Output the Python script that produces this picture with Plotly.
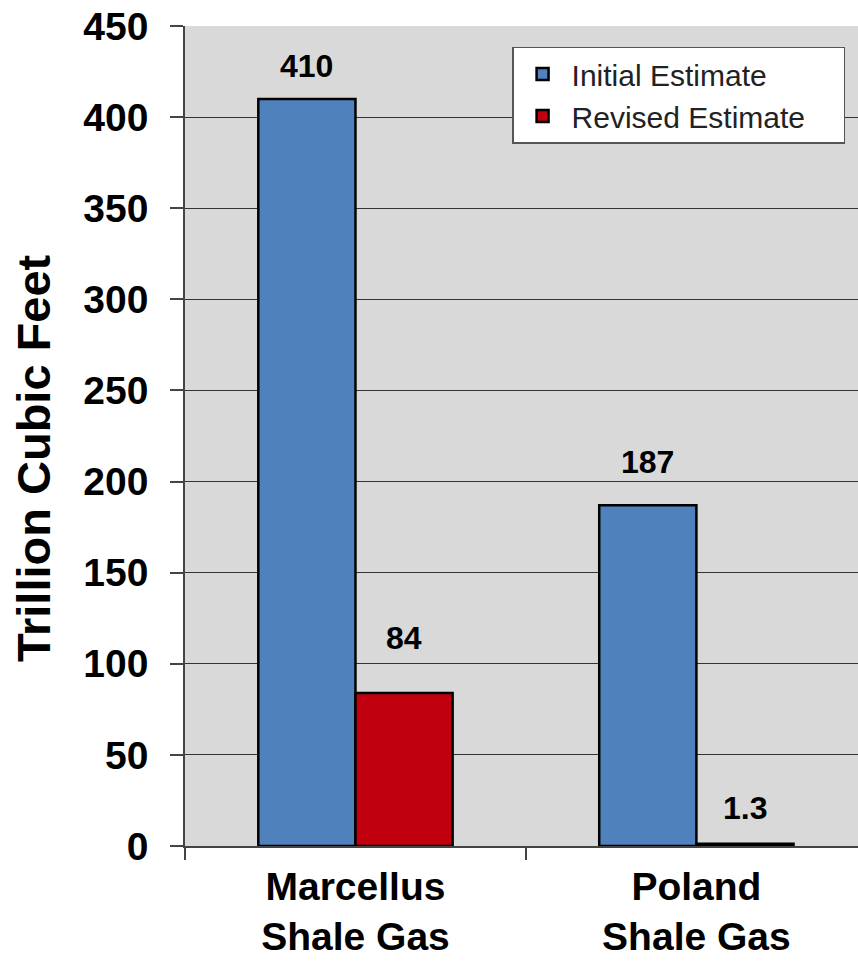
import plotly.graph_objects as go

categories = ["Marcellus<br>Shale Gas", "Poland<br>Shale Gas"]
series_names = ["Initial Estimate", "Revised Estimate"]
initial_estimate = [410, 187]
revised_estimate = [84, 1.3]
label_text_initial = ["410", "187"]
label_text_revised = ["84", "1.3"]
y_ticks = [0, 50, 100, 150, 200, 250, 300, 350, 400, 450]

# style-only: per-label vertical offsets (px) above bar tops
shift_initial = [33, 43]
shift_revised = [55, 36]

BLUE = "#4f81bd"
RED = "#c0000f"
FONT = "Liberation Sans, Arial, sans-serif"
BARGAP = 0.43
PAD = "\u00a0\u00a0\u00a0\u00a0"

fig = go.Figure()
fig.add_trace(go.Bar(name=series_names[0] + PAD, x=categories, y=initial_estimate,
                     marker=dict(color=BLUE, line=dict(color="black", width=2.5))))
fig.add_trace(go.Bar(name=series_names[1] + PAD, x=categories, y=revised_estimate,
                     marker=dict(color=RED, line=dict(color="black", width=2.5))))

off = (1 - BARGAP) / 4
for i, cat in enumerate(categories):
    fig.add_annotation(x=i - off, y=initial_estimate[i], xref="x", yref="y",
                       text="<b>%s</b>" % label_text_initial[i], showarrow=False,
                       yanchor="middle", yshift=shift_initial[i],
                       font=dict(family=FONT, size=32, color="black"))
    fig.add_annotation(x=i + off, y=revised_estimate[i], xref="x", yref="y",
                       text="<b>%s</b>" % label_text_revised[i], showarrow=False,
                       yanchor="middle", yshift=shift_revised[i],
                       font=dict(family=FONT, size=32, color="black"))

fig.add_annotation(text="<b>Trillion Cubic Feet</b>", textangle=-90,
                   xref="paper", yref="paper", x=-0.2259, y=0.473,
                   xanchor="center", yanchor="middle", showarrow=False,
                   font=dict(family=FONT, size=47, color="black"))

fig.update_layout(
    width=858, height=963,
    margin=dict(l=185, r=0, t=26, b=117, autoexpand=False),
    paper_bgcolor="white",
    plot_bgcolor="#d9d9d9",
    barmode="group",
    bargap=BARGAP,
    bargroupgap=0,
    font=dict(family=FONT, color="black"),
    legend=dict(x=0.486, y=0.975, xanchor="left", yanchor="top",
                bgcolor="white", bordercolor="#555555", borderwidth=1.5,
                font=dict(family=FONT, size=30, color="#222222"),
                tracegroupgap=0, itemwidth=48),
    showlegend=True,
)
fig.update_xaxes(
    range=[-0.5, 1.474], showgrid=False, showline=True, linecolor="#444444", linewidth=1.5,
    ticks="outside", tickson="boundaries", ticklen=12, tickcolor="#444444", tickwidth=1.5,
    ticklabelstandoff=5, automargin=False,
    tickfont=dict(family=FONT, size=39, color="black"),
    tickprefix="<b>", ticksuffix="</b>",
)
fig.update_yaxes(
    range=[0, 450], tickvals=y_ticks, ticktext=["<b>%d</b>" % v for v in y_ticks],
    showgrid=True, gridcolor="#333333", gridwidth=1,
    showline=True, linecolor="#444444", linewidth=1.5,
    ticks="outside", ticklen=13, tickcolor="#444444", tickwidth=1.5,
    ticklabelstandoff=14, ticklabeloverflow="allow", automargin=False,
    tickfont=dict(family=FONT, size=39, color="black"),
    zeroline=False,
)

fig.write_html("out.html", config={"displayModeBar": False},
               post_script="document.body.style.margin='0px';")
